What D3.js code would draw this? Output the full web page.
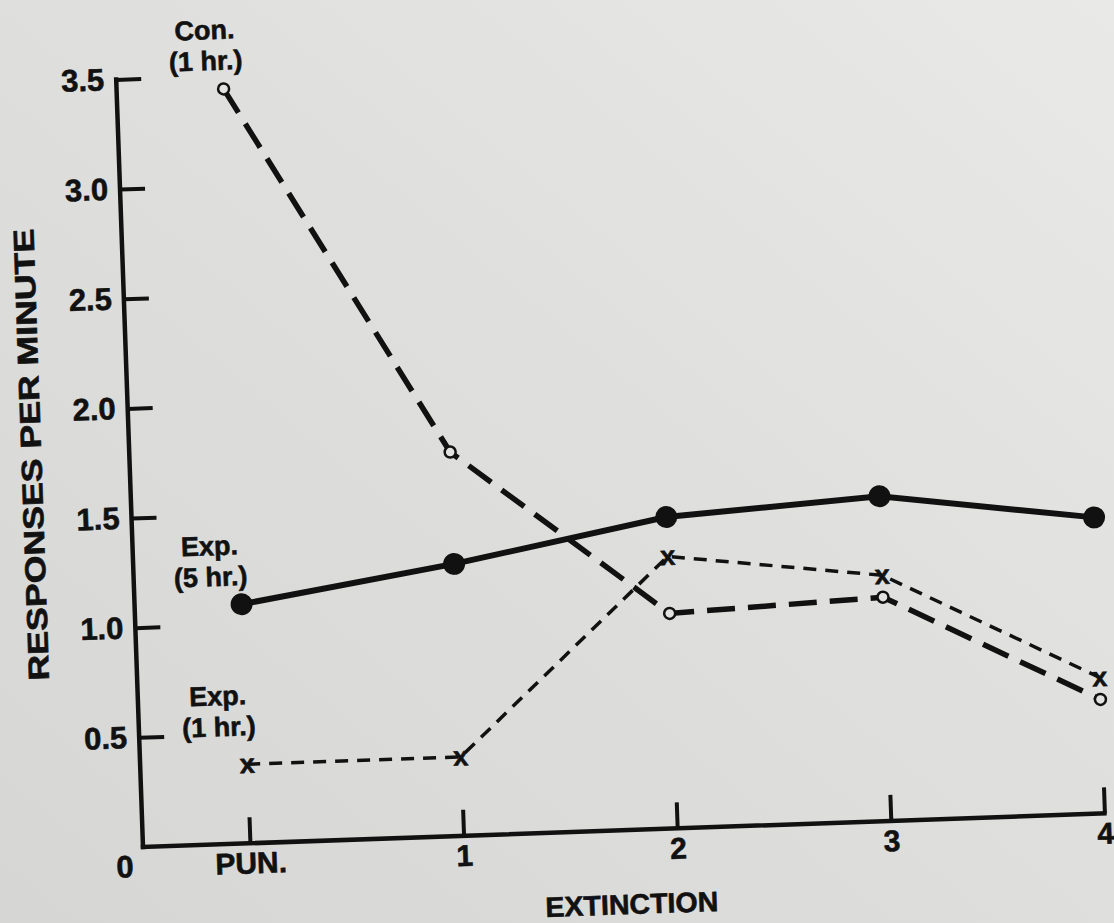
<!DOCTYPE html>
<html><head><meta charset="utf-8">
<script src="https://cdn.jsdelivr.net/npm/d3@7"></script>
<style>
html,body{margin:0;padding:0;background:#dededc;}
svg{display:block;}
text{font-family:"Liberation Sans","DejaVu Sans",sans-serif;font-weight:bold;fill:#111;stroke:#111;stroke-width:0.6px;}
</style></head><body>
<script>
const categories = ["PUN.", "1", "2", "3", "4"];
const conOneHr  = [3.44, 1.75, 0.98, 1.02, 0.52];
const expFiveHr = [1.09, 1.24, 1.42, 1.48, 1.35];
const expOneHr  = [0.36, 0.36, 1.24, 1.12, 0.62];
const yTicks = [0, 0.5, 1.0, 1.5, 2.0, 2.5, 3.0, 3.5];
const yTitle = "RESPONSES PER MINUTE";
const xTitle = "EXTINCTION";
const seriesLabels = [["Con.","(1 hr.)"], ["Exp.","(5 hr.)"], ["Exp.","(1 hr.)"]];

const W = 1114, H = 923;
const svg = d3.select("body").append("svg").attr("width", W).attr("height", H);

const defs = svg.append("defs");
const grad = defs.append("linearGradient").attr("id","bg").attr("x1","0").attr("y1","1").attr("x2","1").attr("y2","0");
grad.append("stop").attr("offset","0").attr("stop-color","#d6d6d4");
grad.append("stop").attr("offset","0.55").attr("stop-color","#dfdfdd");
grad.append("stop").attr("offset","1").attr("stop-color","#e9e9e7");
svg.append("rect").attr("width",W).attr("height",H).attr("fill","url(#bg)");

const g = svg.append("g").attr("transform","translate(143,847) rotate(-2)");

const x = d3.scalePoint().domain(categories).range([107, 962]);
const y = d3.scaleLinear().domain([0, 3.5]).range([0, -768]);

const ink = "#111";

// axis lines
g.append("line").attr("x1",0).attr("y1",y(0)).attr("x2",0).attr("y2",y(3.5))
  .attr("stroke",ink).attr("stroke-width",4.5).attr("stroke-linecap","square");
g.append("line").attr("x1",0).attr("y1",y(0)).attr("x2",x("4")).attr("y2",y(0))
  .attr("stroke",ink).attr("stroke-width",4.5).attr("stroke-linecap","square");

// y axis
const yAxis = d3.axisLeft(y).tickValues(yTicks).tickSize(-25).tickSizeOuter(0).tickPadding(12)
  .tickFormat(d => d === 0 ? "0" : d.toFixed(1));
const ya = g.append("g").call(yAxis);
ya.select(".domain").remove();
ya.selectAll(".tick line").attr("stroke",ink).attr("stroke-width",4);
ya.selectAll(".tick text").attr("font-size",31).attr("font-family",null).attr("fill",ink);
ya.selectAll(".tick").filter(d => d === 0).select("line").remove();
ya.selectAll(".tick").filter(d => d === 0).select("text").attr("x",-10).attr("dy","0.95em");

// x axis
const xAxis = d3.axisBottom(x).tickSize(-26).tickSizeOuter(0).tickPadding(9);
const xa = g.append("g").call(xAxis);
xa.select(".domain").remove();
xa.selectAll(".tick line").attr("stroke",ink).attr("stroke-width",4);
xa.selectAll(".tick text").attr("font-size",30).attr("font-family",null).attr("fill",ink);

// axis titles
g.append("text").attr("transform",`translate(-88,${y(1.75) - 12}) rotate(-90)`)
  .attr("text-anchor","middle").attr("font-size",29)
  .attr("textLength",452).attr("lengthAdjust","spacingAndGlyphs").text(yTitle);
g.append("text").attr("x", x("2") - 48).attr("y", 84)
  .attr("text-anchor","middle").attr("font-size",28)
  .attr("textLength",173).attr("lengthAdjust","spacingAndGlyphs").text(xTitle);

// lines
const line = d3.line().x((d,i) => x(categories[i])).y(d => y(d));

g.append("path").datum(conOneHr).attr("d",line).attr("fill","none")
  .attr("stroke",ink).attr("stroke-width",5.5).attr("stroke-dasharray","28 13");
g.append("path").datum(expOneHr).attr("d",line).attr("fill","none")
  .attr("stroke",ink).attr("stroke-width",3.5).attr("stroke-dasharray","13 9");
g.append("path").datum(expFiveHr).attr("d",line).attr("fill","none")
  .attr("stroke",ink).attr("stroke-width",6);

// markers
g.selectAll(".con").data(conOneHr).join("circle")
  .attr("cx",(d,i)=>x(categories[i])).attr("cy",d=>y(d)).attr("r",5.5)
  .attr("fill","#e2e2e0").attr("stroke",ink).attr("stroke-width",2.5);
g.selectAll(".e5").data(expFiveHr).join("circle")
  .attr("cx",(d,i)=>x(categories[i])).attr("cy",d=>y(d)).attr("r",11).attr("fill",ink);
g.selectAll(".e1").data(expOneHr).join("text")
  .attr("x",(d,i)=>x(categories[i])).attr("y",d=>y(d)).attr("dy","0.32em")
  .attr("text-anchor","middle").attr("font-size",27).text("x");

// annotations
function label(lines, cx, cy, size){
  const t = g.append("text").attr("text-anchor","middle").attr("font-size",size);
  lines.forEach((s,k)=> t.append("tspan").attr("x",cx).attr("y",cy + k*31).text(s));
}
label(seriesLabels[0], x("PUN.") - 17, y(3.5) - 37, 27);
label(seriesLabels[1], x("PUN.") - 30, y(expFiveHr[0]) - 50, 27);
label(seriesLabels[2], x("PUN.") - 27, y(expOneHr[0]) - 60, 27);
</script>
</body></html>
